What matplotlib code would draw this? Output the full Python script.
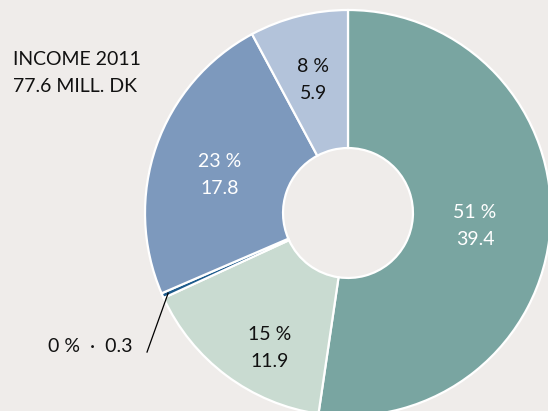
import matplotlib.pyplot as plt
import numpy as np

# income 2011, mill. DK (clockwise from top)
values = [39.4, 11.9, 0.3, 17.8, 5.9]
shares = ["51 %", "15 %", "0 %", "23 %", "8 %"]
colors = ["#79a5a1", "#c9dbd1", "#1d5b8c", "#7d99bd", "#b3c3da"]
title_lines = ["INCOME 2011", "77.6 MILL. DK"]

bg = "#efecea"
plt.rcParams['font.family'] = ['Lato', 'DejaVu Sans']

fig = plt.figure(figsize=(5.48, 4.11), dpi=100, facecolor=bg)
ax = fig.add_axes([0, 0, 1, 1])
ax.set_facecolor(bg)

wedges, _ = ax.pie(values, colors=colors, startangle=90, counterclock=False,
                   radius=1.0, wedgeprops=dict(width=0.68, edgecolor="white", linewidth=1.6))

# labels inside slices
lab_pos = [(0.626, -0.064), (-0.384, -0.665), None, (-0.631, 0.187), (-0.172, 0.655)]
lab_col = ["white", "#111111", None, "white", "#111111"]
for i, pos in enumerate(lab_pos):
    if pos is None:
        continue
    ax.text(pos[0], pos[1], f"{shares[i]}\n{values[i]}", ha="center", va="center",
            color=lab_col[i], fontsize=14, linespacing=1.7)

# small slice label with leader line to the thin wedge
ax.text(-1.064, -0.660, f"{shares[2]}  ·  {values[2]}", ha="right", va="center",
        fontsize=14, color="#111111")
w = wedges[2]
mid = np.deg2rad((w.theta1 + w.theta2) / 2)
ax.plot([-0.990, 0.97 * np.cos(mid)], [-0.685, 0.97 * np.sin(mid)], color="black", lw=0.9)

ax.text(-1.650, 0.690, "\n".join(title_lines), ha="left", va="center",
        fontsize=14, color="#111111", linespacing=1.7)

ax.set_xlim(-348 / 203, 200 / 203)
ax.set_ylim(-198 / 203, 213 / 203)
ax.set_aspect("auto")
ax.axis("off")

fig.savefig("out.png", dpi=100, facecolor=bg)
